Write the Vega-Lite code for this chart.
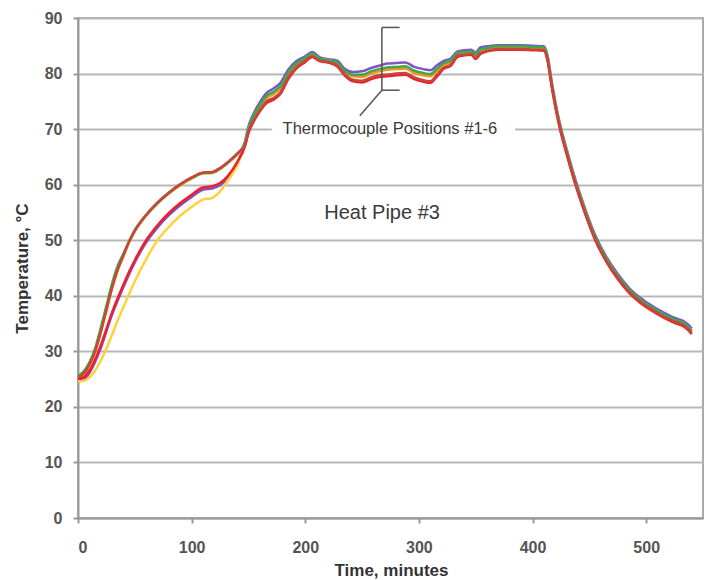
{
"$schema": "https://vega.github.io/schema/vega-lite/v6.json",
"width": 625, "height": 500,
"autosize": {"type": "none"},
"padding": {"left": 78, "top": 18, "right": 14, "bottom": 62},
"background": "white",
"config": {
 "view": {"stroke": "#aaaaaa", "strokeWidth": 2},
 "line": {"strokeWidth": 2.5, "interpolate": "monotone"},
 "axis": {"labelFont": "Liberation Sans", "labelFontWeight": "bold", "labelFontSize": 16, "labelColor": "#555555",
  "titleFont": "Liberation Sans", "titleFontWeight": "bold", "titleFontSize": 17, "titleColor": "#333333",
  "domainColor": "#999999", "domainWidth": 2, "tickColor": "#999999", "tickWidth": 2, "tickSize": 5}
},
"datasets": {"tc": [
{"t":0,"s":"TC1","v":24.9},{"t":5,"s":"TC1","v":24.9},{"t":10,"s":"TC1","v":26.1},{"t":15,"s":"TC1","v":28.1},{"t":20,"s":"TC1","v":30.6},{"t":25,"s":"TC1","v":33.6},{"t":30,"s":"TC1","v":36.6},{"t":35,"s":"TC1","v":39.2},{"t":40,"s":"TC1","v":41.6},{"t":45,"s":"TC1","v":43.9},{"t":50,"s":"TC1","v":46.0},{"t":60,"s":"TC1","v":49.6},{"t":70,"s":"TC1","v":52.3},{"t":80,"s":"TC1","v":54.5},{"t":90,"s":"TC1","v":56.3},{"t":100,"s":"TC1","v":57.8},{"t":110,"s":"TC1","v":59.1},{"t":118,"s":"TC1","v":59.3},{"t":125,"s":"TC1","v":59.9},{"t":132,"s":"TC1","v":61.2},{"t":140,"s":"TC1","v":63.7},
{"t":147,"s":"TC1","v":67.8},{"t":150,"s":"TC1","v":70.5},{"t":155,"s":"TC1","v":73.0},{"t":160,"s":"TC1","v":74.8},{"t":166,"s":"TC1","v":76.5},{"t":172,"s":"TC1","v":77.3},{"t":178,"s":"TC1","v":78.3},{"t":185,"s":"TC1","v":80.7},{"t":192,"s":"TC1","v":82.2},{"t":200,"s":"TC1","v":83.1},{"t":206,"s":"TC1","v":83.9},{"t":213,"s":"TC1","v":82.9},{"t":220,"s":"TC1","v":82.6},{"t":228,"s":"TC1","v":82.3},{"t":235,"s":"TC1","v":80.8},{"t":242,"s":"TC1","v":80.3},{"t":250,"s":"TC1","v":80.4},{"t":258,"s":"TC1","v":81.0},{"t":265,"s":"TC1","v":81.4},{"t":272,"s":"TC1","v":81.8},{"t":280,"s":"TC1","v":81.9},{"t":288,"s":"TC1","v":82.0},{"t":296,"s":"TC1","v":81.2},{"t":304,"s":"TC1","v":80.8},{"t":310,"s":"TC1","v":80.6},{"t":316,"s":"TC1","v":81.5},{"t":322,"s":"TC1","v":82.3},{"t":328,"s":"TC1","v":82.7},{"t":334,"s":"TC1","v":84.0},{"t":340,"s":"TC1","v":84.2},{"t":346,"s":"TC1","v":84.3},{"t":350,"s":"TC1","v":83.8},{"t":354,"s":"TC1","v":84.7},{"t":360,"s":"TC1","v":84.9},{"t":370,"s":"TC1","v":85.1},{"t":380,"s":"TC1","v":85.1},{"t":390,"s":"TC1","v":85.1},{"t":400,"s":"TC1","v":85.0},{"t":410,"s":"TC1","v":84.9},
{"t":413,"s":"TC1","v":83.4},{"t":417,"s":"TC1","v":78.4},{"t":421,"s":"TC1","v":73.9},{"t":425,"s":"TC1","v":70.2},{"t":430,"s":"TC1","v":66.4},{"t":437,"s":"TC1","v":61.4},{"t":445,"s":"TC1","v":56.4},{"t":455,"s":"TC1","v":51.0},{"t":465,"s":"TC1","v":47.0},{"t":475,"s":"TC1","v":43.9},{"t":485,"s":"TC1","v":41.4},{"t":495,"s":"TC1","v":39.6},{"t":505,"s":"TC1","v":38.2},{"t":515,"s":"TC1","v":37.0},{"t":522,"s":"TC1","v":36.3},{"t":528,"s":"TC1","v":35.8},{"t":533,"s":"TC1","v":35.4},{"t":537,"s":"TC1","v":34.8},{"t":540,"s":"TC1","v":34.1},

{"t":0,"s":"TC2","v":24.6},{"t":5,"s":"TC2","v":24.7},{"t":10,"s":"TC2","v":25.3},{"t":15,"s":"TC2","v":26.5},{"t":20,"s":"TC2","v":28.3},{"t":25,"s":"TC2","v":30.5},{"t":30,"s":"TC2","v":33.0},{"t":35,"s":"TC2","v":35.6},{"t":40,"s":"TC2","v":38.0},{"t":45,"s":"TC2","v":40.3},{"t":50,"s":"TC2","v":42.6},{"t":60,"s":"TC2","v":46.6},{"t":70,"s":"TC2","v":50.0},{"t":80,"s":"TC2","v":52.4},{"t":90,"s":"TC2","v":54.4},{"t":100,"s":"TC2","v":56.0},{"t":110,"s":"TC2","v":57.3},{"t":118,"s":"TC2","v":57.6},{"t":125,"s":"TC2","v":58.8},{"t":132,"s":"TC2","v":60.8},{"t":140,"s":"TC2","v":63.4},
{"t":147,"s":"TC2","v":67.5},{"t":150,"s":"TC2","v":70.0},{"t":155,"s":"TC2","v":72.4},{"t":160,"s":"TC2","v":74.2},{"t":166,"s":"TC2","v":75.8},{"t":172,"s":"TC2","v":76.5},{"t":178,"s":"TC2","v":77.5},{"t":185,"s":"TC2","v":80.0},{"t":192,"s":"TC2","v":81.7},{"t":200,"s":"TC2","v":82.7},{"t":206,"s":"TC2","v":83.5},{"t":213,"s":"TC2","v":82.6},{"t":220,"s":"TC2","v":82.4},{"t":228,"s":"TC2","v":81.9},{"t":235,"s":"TC2","v":80.3},{"t":242,"s":"TC2","v":79.6},{"t":250,"s":"TC2","v":79.6},{"t":258,"s":"TC2","v":80.2},{"t":265,"s":"TC2","v":80.6},{"t":272,"s":"TC2","v":80.9},{"t":280,"s":"TC2","v":81.0},{"t":288,"s":"TC2","v":81.1},{"t":296,"s":"TC2","v":80.3},{"t":304,"s":"TC2","v":79.9},{"t":310,"s":"TC2","v":79.7},{"t":316,"s":"TC2","v":80.7},{"t":322,"s":"TC2","v":81.7},{"t":328,"s":"TC2","v":82.2},{"t":334,"s":"TC2","v":83.6},{"t":340,"s":"TC2","v":83.8},{"t":346,"s":"TC2","v":83.9},{"t":350,"s":"TC2","v":83.3},{"t":354,"s":"TC2","v":84.2},{"t":360,"s":"TC2","v":84.5},{"t":370,"s":"TC2","v":84.8},{"t":380,"s":"TC2","v":84.8},{"t":390,"s":"TC2","v":84.8},{"t":400,"s":"TC2","v":84.7},{"t":410,"s":"TC2","v":84.6},
{"t":413,"s":"TC2","v":83.0},{"t":417,"s":"TC2","v":78.0},{"t":421,"s":"TC2","v":73.5},{"t":425,"s":"TC2","v":69.8},{"t":430,"s":"TC2","v":66.0},{"t":437,"s":"TC2","v":61.0},{"t":445,"s":"TC2","v":56.0},{"t":455,"s":"TC2","v":50.6},{"t":465,"s":"TC2","v":46.6},{"t":475,"s":"TC2","v":43.5},{"t":485,"s":"TC2","v":41.0},{"t":495,"s":"TC2","v":39.2},{"t":505,"s":"TC2","v":37.8},{"t":515,"s":"TC2","v":36.6},{"t":522,"s":"TC2","v":35.9},{"t":528,"s":"TC2","v":35.4},{"t":533,"s":"TC2","v":35.0},{"t":537,"s":"TC2","v":34.3},{"t":540,"s":"TC2","v":33.6},

{"t":0,"s":"TC3","v":25.1},{"t":5,"s":"TC3","v":25.8},{"t":10,"s":"TC3","v":27.4},{"t":15,"s":"TC3","v":29.8},{"t":20,"s":"TC3","v":33.3},{"t":25,"s":"TC3","v":37.3},{"t":30,"s":"TC3","v":41.3},{"t":35,"s":"TC3","v":44.6},{"t":40,"s":"TC3","v":47.1},{"t":45,"s":"TC3","v":49.6},{"t":50,"s":"TC3","v":51.6},{"t":60,"s":"TC3","v":54.4},{"t":70,"s":"TC3","v":56.6},{"t":80,"s":"TC3","v":58.4},{"t":90,"s":"TC3","v":59.9},{"t":100,"s":"TC3","v":61.1},{"t":110,"s":"TC3","v":62.0},{"t":118,"s":"TC3","v":62.1},{"t":125,"s":"TC3","v":62.8},{"t":132,"s":"TC3","v":63.9},{"t":140,"s":"TC3","v":65.4},
{"t":147,"s":"TC3","v":67.4},{"t":150,"s":"TC3","v":69.9},{"t":155,"s":"TC3","v":72.3},{"t":160,"s":"TC3","v":74.0},{"t":166,"s":"TC3","v":75.6},{"t":172,"s":"TC3","v":76.3},{"t":178,"s":"TC3","v":77.3},{"t":185,"s":"TC3","v":79.9},{"t":192,"s":"TC3","v":81.6},{"t":200,"s":"TC3","v":82.6},{"t":206,"s":"TC3","v":83.5},{"t":213,"s":"TC3","v":82.6},{"t":220,"s":"TC3","v":82.3},{"t":228,"s":"TC3","v":81.8},{"t":235,"s":"TC3","v":80.2},{"t":242,"s":"TC3","v":79.5},{"t":250,"s":"TC3","v":79.4},{"t":258,"s":"TC3","v":80.0},{"t":265,"s":"TC3","v":80.4},{"t":272,"s":"TC3","v":80.7},{"t":280,"s":"TC3","v":80.8},{"t":288,"s":"TC3","v":80.9},{"t":296,"s":"TC3","v":80.1},{"t":304,"s":"TC3","v":79.7},{"t":310,"s":"TC3","v":79.5},{"t":316,"s":"TC3","v":80.5},{"t":322,"s":"TC3","v":81.6},{"t":328,"s":"TC3","v":82.1},{"t":334,"s":"TC3","v":83.5},{"t":340,"s":"TC3","v":83.8},{"t":346,"s":"TC3","v":83.9},{"t":350,"s":"TC3","v":83.2},{"t":354,"s":"TC3","v":84.1},{"t":360,"s":"TC3","v":84.5},{"t":370,"s":"TC3","v":84.7},{"t":380,"s":"TC3","v":84.7},{"t":390,"s":"TC3","v":84.7},{"t":400,"s":"TC3","v":84.6},{"t":410,"s":"TC3","v":84.5},
{"t":413,"s":"TC3","v":82.9},{"t":417,"s":"TC3","v":77.9},{"t":421,"s":"TC3","v":73.4},{"t":425,"s":"TC3","v":69.7},{"t":430,"s":"TC3","v":65.9},{"t":437,"s":"TC3","v":60.9},{"t":445,"s":"TC3","v":55.9},{"t":455,"s":"TC3","v":50.5},{"t":465,"s":"TC3","v":46.5},{"t":475,"s":"TC3","v":43.4},{"t":485,"s":"TC3","v":40.9},{"t":495,"s":"TC3","v":39.1},{"t":505,"s":"TC3","v":37.7},{"t":515,"s":"TC3","v":36.5},{"t":522,"s":"TC3","v":35.8},{"t":528,"s":"TC3","v":35.3},{"t":533,"s":"TC3","v":34.9},{"t":537,"s":"TC3","v":34.2},{"t":540,"s":"TC3","v":33.5},

{"t":0,"s":"TC4","v":25.6},{"t":5,"s":"TC4","v":26.4},{"t":10,"s":"TC4","v":28.0},{"t":15,"s":"TC4","v":30.5},{"t":20,"s":"TC4","v":34.2},{"t":25,"s":"TC4","v":38.2},{"t":30,"s":"TC4","v":42.2},{"t":35,"s":"TC4","v":45.4},{"t":40,"s":"TC4","v":47.6},{"t":45,"s":"TC4","v":49.8},{"t":50,"s":"TC4","v":51.7},{"t":60,"s":"TC4","v":54.5},{"t":70,"s":"TC4","v":56.7},{"t":80,"s":"TC4","v":58.5},{"t":90,"s":"TC4","v":60.0},{"t":100,"s":"TC4","v":61.2},{"t":110,"s":"TC4","v":62.1},{"t":118,"s":"TC4","v":62.2},{"t":125,"s":"TC4","v":62.9},{"t":132,"s":"TC4","v":64.0},{"t":140,"s":"TC4","v":65.5},
{"t":147,"s":"TC4","v":67.6},{"t":150,"s":"TC4","v":70.1},{"t":155,"s":"TC4","v":72.6},{"t":160,"s":"TC4","v":74.3},{"t":166,"s":"TC4","v":76.0},{"t":172,"s":"TC4","v":76.7},{"t":178,"s":"TC4","v":77.7},{"t":185,"s":"TC4","v":80.2},{"t":192,"s":"TC4","v":81.8},{"t":200,"s":"TC4","v":82.8},{"t":206,"s":"TC4","v":83.6},{"t":213,"s":"TC4","v":82.7},{"t":220,"s":"TC4","v":82.4},{"t":228,"s":"TC4","v":82.0},{"t":235,"s":"TC4","v":80.4},{"t":242,"s":"TC4","v":79.8},{"t":250,"s":"TC4","v":79.8},{"t":258,"s":"TC4","v":80.4},{"t":265,"s":"TC4","v":80.8},{"t":272,"s":"TC4","v":81.1},{"t":280,"s":"TC4","v":81.2},{"t":288,"s":"TC4","v":81.3},{"t":296,"s":"TC4","v":80.5},{"t":304,"s":"TC4","v":80.1},{"t":310,"s":"TC4","v":79.9},{"t":316,"s":"TC4","v":80.9},{"t":322,"s":"TC4","v":81.9},{"t":328,"s":"TC4","v":82.3},{"t":334,"s":"TC4","v":83.7},{"t":340,"s":"TC4","v":83.9},{"t":346,"s":"TC4","v":84.0},{"t":350,"s":"TC4","v":83.4},{"t":354,"s":"TC4","v":84.3},{"t":360,"s":"TC4","v":84.6},{"t":370,"s":"TC4","v":84.9},{"t":380,"s":"TC4","v":84.9},{"t":390,"s":"TC4","v":84.9},{"t":400,"s":"TC4","v":84.8},{"t":410,"s":"TC4","v":84.7},
{"t":413,"s":"TC4","v":83.1},{"t":417,"s":"TC4","v":78.1},{"t":421,"s":"TC4","v":73.6},{"t":425,"s":"TC4","v":69.9},{"t":430,"s":"TC4","v":66.1},{"t":437,"s":"TC4","v":61.1},{"t":445,"s":"TC4","v":56.1},{"t":455,"s":"TC4","v":50.7},{"t":465,"s":"TC4","v":46.7},{"t":475,"s":"TC4","v":43.6},{"t":485,"s":"TC4","v":41.1},{"t":495,"s":"TC4","v":39.3},{"t":505,"s":"TC4","v":37.9},{"t":515,"s":"TC4","v":36.7},{"t":522,"s":"TC4","v":36.0},{"t":528,"s":"TC4","v":35.5},{"t":533,"s":"TC4","v":35.1},{"t":537,"s":"TC4","v":34.4},{"t":540,"s":"TC4","v":33.7},

{"t":0,"s":"TC5","v":25.0},{"t":5,"s":"TC5","v":25.3},{"t":10,"s":"TC5","v":26.5},{"t":15,"s":"TC5","v":28.5},{"t":20,"s":"TC5","v":31.0},{"t":25,"s":"TC5","v":34.0},{"t":30,"s":"TC5","v":37.0},{"t":35,"s":"TC5","v":39.6},{"t":40,"s":"TC5","v":42.0},{"t":45,"s":"TC5","v":44.3},{"t":50,"s":"TC5","v":46.4},{"t":60,"s":"TC5","v":50.0},{"t":70,"s":"TC5","v":52.7},{"t":80,"s":"TC5","v":54.9},{"t":90,"s":"TC5","v":56.7},{"t":100,"s":"TC5","v":58.2},{"t":110,"s":"TC5","v":59.5},{"t":118,"s":"TC5","v":59.7},{"t":125,"s":"TC5","v":60.3},{"t":132,"s":"TC5","v":61.6},{"t":140,"s":"TC5","v":64.0},
{"t":147,"s":"TC5","v":67.0},{"t":150,"s":"TC5","v":69.3},{"t":155,"s":"TC5","v":71.5},{"t":160,"s":"TC5","v":73.2},{"t":166,"s":"TC5","v":74.7},{"t":172,"s":"TC5","v":75.3},{"t":178,"s":"TC5","v":76.3},{"t":185,"s":"TC5","v":79.0},{"t":192,"s":"TC5","v":80.9},{"t":200,"s":"TC5","v":82.1},{"t":206,"s":"TC5","v":83.0},{"t":213,"s":"TC5","v":82.2},{"t":220,"s":"TC5","v":82.0},{"t":228,"s":"TC5","v":81.3},{"t":235,"s":"TC5","v":79.6},{"t":242,"s":"TC5","v":78.6},{"t":250,"s":"TC5","v":78.4},{"t":258,"s":"TC5","v":79.0},{"t":265,"s":"TC5","v":79.4},{"t":272,"s":"TC5","v":79.5},{"t":280,"s":"TC5","v":79.7},{"t":288,"s":"TC5","v":79.8},{"t":296,"s":"TC5","v":79.0},{"t":304,"s":"TC5","v":78.5},{"t":310,"s":"TC5","v":78.3},{"t":316,"s":"TC5","v":79.5},{"t":322,"s":"TC5","v":80.9},{"t":328,"s":"TC5","v":81.4},{"t":334,"s":"TC5","v":83.0},{"t":340,"s":"TC5","v":83.3},{"t":346,"s":"TC5","v":83.4},{"t":350,"s":"TC5","v":82.6},{"t":354,"s":"TC5","v":83.5},{"t":360,"s":"TC5","v":84.0},{"t":370,"s":"TC5","v":84.3},{"t":380,"s":"TC5","v":84.3},{"t":390,"s":"TC5","v":84.3},{"t":400,"s":"TC5","v":84.2},{"t":410,"s":"TC5","v":84.1},
{"t":413,"s":"TC5","v":82.5},{"t":417,"s":"TC5","v":77.5},{"t":421,"s":"TC5","v":73.0},{"t":425,"s":"TC5","v":69.3},{"t":430,"s":"TC5","v":65.5},{"t":437,"s":"TC5","v":60.5},{"t":445,"s":"TC5","v":55.5},{"t":455,"s":"TC5","v":50.1},{"t":465,"s":"TC5","v":46.1},{"t":475,"s":"TC5","v":43.0},{"t":485,"s":"TC5","v":40.5},{"t":495,"s":"TC5","v":38.7},{"t":505,"s":"TC5","v":37.3},{"t":515,"s":"TC5","v":36.1},{"t":522,"s":"TC5","v":35.4},{"t":528,"s":"TC5","v":34.9},{"t":533,"s":"TC5","v":34.5},{"t":537,"s":"TC5","v":33.8},{"t":540,"s":"TC5","v":33.1},

{"t":0,"s":"TC6","v":25.3},{"t":5,"s":"TC6","v":26.0},{"t":10,"s":"TC6","v":27.6},{"t":15,"s":"TC6","v":30.0},{"t":20,"s":"TC6","v":33.5},{"t":25,"s":"TC6","v":37.5},{"t":30,"s":"TC6","v":41.5},{"t":35,"s":"TC6","v":44.8},{"t":40,"s":"TC6","v":47.3},{"t":45,"s":"TC6","v":49.8},{"t":50,"s":"TC6","v":51.8},{"t":60,"s":"TC6","v":54.6},{"t":70,"s":"TC6","v":56.8},{"t":80,"s":"TC6","v":58.6},{"t":90,"s":"TC6","v":60.1},{"t":100,"s":"TC6","v":61.3},{"t":110,"s":"TC6","v":62.2},{"t":118,"s":"TC6","v":62.3},{"t":125,"s":"TC6","v":63.0},{"t":132,"s":"TC6","v":64.1},{"t":140,"s":"TC6","v":65.6},
{"t":147,"s":"TC6","v":67.1},{"t":150,"s":"TC6","v":69.5},{"t":155,"s":"TC6","v":71.7},{"t":160,"s":"TC6","v":73.4},{"t":166,"s":"TC6","v":75.0},{"t":172,"s":"TC6","v":75.6},{"t":178,"s":"TC6","v":76.6},{"t":185,"s":"TC6","v":79.3},{"t":192,"s":"TC6","v":81.1},{"t":200,"s":"TC6","v":82.3},{"t":206,"s":"TC6","v":83.1},{"t":213,"s":"TC6","v":82.3},{"t":220,"s":"TC6","v":82.1},{"t":228,"s":"TC6","v":81.5},{"t":235,"s":"TC6","v":79.8},{"t":242,"s":"TC6","v":78.9},{"t":250,"s":"TC6","v":78.7},{"t":258,"s":"TC6","v":79.3},{"t":265,"s":"TC6","v":79.7},{"t":272,"s":"TC6","v":79.8},{"t":280,"s":"TC6","v":80.0},{"t":288,"s":"TC6","v":80.1},{"t":296,"s":"TC6","v":79.3},{"t":304,"s":"TC6","v":78.8},{"t":310,"s":"TC6","v":78.6},{"t":316,"s":"TC6","v":79.8},{"t":322,"s":"TC6","v":81.1},{"t":328,"s":"TC6","v":81.6},{"t":334,"s":"TC6","v":83.2},{"t":340,"s":"TC6","v":83.4},{"t":346,"s":"TC6","v":83.5},{"t":350,"s":"TC6","v":82.8},{"t":354,"s":"TC6","v":83.7},{"t":360,"s":"TC6","v":84.1},{"t":370,"s":"TC6","v":84.4},{"t":380,"s":"TC6","v":84.4},{"t":390,"s":"TC6","v":84.4},{"t":400,"s":"TC6","v":84.3},{"t":410,"s":"TC6","v":84.2},
{"t":413,"s":"TC6","v":82.7},{"t":417,"s":"TC6","v":77.7},{"t":421,"s":"TC6","v":73.2},{"t":425,"s":"TC6","v":69.5},{"t":430,"s":"TC6","v":65.7},{"t":437,"s":"TC6","v":60.7},{"t":445,"s":"TC6","v":55.7},{"t":455,"s":"TC6","v":50.3},{"t":465,"s":"TC6","v":46.3},{"t":475,"s":"TC6","v":43.2},{"t":485,"s":"TC6","v":40.7},{"t":495,"s":"TC6","v":38.9},{"t":505,"s":"TC6","v":37.5},{"t":515,"s":"TC6","v":36.3},{"t":522,"s":"TC6","v":35.6},{"t":528,"s":"TC6","v":35.1},{"t":533,"s":"TC6","v":34.7},{"t":537,"s":"TC6","v":34.0},{"t":540,"s":"TC6","v":33.3}
]},
"layer": [
 {"data": {"name": "tc"}, "transform": [{"filter": {"field": "s", "equal": "TC1"}}],
  "mark": {"type": "line", "color": "#7D55C7"},
  "encoding": {
   "x": {"field": "t", "type": "quantitative", "title": "Time, minutes", "scale": {"domain": [0, 550], "nice": false},
    "axis": {"values": [0, 100, 200, 300, 400, 500], "grid": false, "labelPadding": 24, "labelBaseline": "middle", "titleX": 313, "titleY": 52, "titleBaseline": "middle", "titleAnchor": null}},
   "y": {"field": "v", "type": "quantitative", "title": "Temperature, °C", "scale": {"domain": [0, 90], "nice": false},
    "axis": {"values": [0, 10, 20, 30, 40, 50, 60, 70, 80, 90], "grid": true, "gridColor": "#b8b8b8", "gridWidth": 2, "labelPadding": 11,
     "titleX": -56, "titleY": 250, "titleAngle": 270, "titleAlign": "center", "titleBaseline": "middle"}}
  }},
 {"data": {"name": "tc"}, "transform": [{"filter": {"field": "s", "equal": "TC2"}}],
  "mark": {"type": "line", "color": "#FFD23C"},
  "encoding": {"x": {"field": "t", "type": "quantitative", "title": "Time, minutes"}, "y": {"field": "v", "type": "quantitative", "title": "Temperature, °C"}}},
 {"data": {"name": "tc"}, "transform": [{"filter": {"field": "s", "equal": "TC3"}}],
  "mark": {"type": "line", "color": "#F7941D"},
  "encoding": {"x": {"field": "t", "type": "quantitative", "title": "Time, minutes"}, "y": {"field": "v", "type": "quantitative", "title": "Temperature, °C"}}},
 {"data": {"name": "tc"}, "transform": [{"filter": {"field": "s", "equal": "TC4"}}],
  "mark": {"type": "line", "color": "#3BAA4A"},
  "encoding": {"x": {"field": "t", "type": "quantitative", "title": "Time, minutes"}, "y": {"field": "v", "type": "quantitative", "title": "Temperature, °C"}}},
 {"data": {"name": "tc"}, "transform": [{"filter": {"field": "s", "equal": "TC5"}}],
  "mark": {"type": "line", "color": "#F01E2C"},
  "encoding": {"x": {"field": "t", "type": "quantitative", "title": "Time, minutes"}, "y": {"field": "v", "type": "quantitative", "title": "Temperature, °C"}}},
 {"data": {"name": "tc"}, "transform": [{"filter": {"field": "s", "equal": "TC6"}}],
  "mark": {"type": "line", "color": "#C8453C"},
  "encoding": {"x": {"field": "t", "type": "quantitative", "title": "Time, minutes"}, "y": {"field": "v", "type": "quantitative", "title": "Temperature, °C"}}},
 {"data": {"values": [{"t": 170.5, "t2": 384.7, "v": 68.6, "v2": 71.6}]},
  "mark": {"type": "rect", "fill": "white"},
  "encoding": {"x": {"field": "t", "type": "quantitative", "title": "Time, minutes"}, "x2": {"field": "t2"},
   "y": {"field": "v", "type": "quantitative", "title": "Temperature, °C"}, "y2": {"field": "v2"}}},
 {"data": {"values": [
   {"t": 267.4, "v": 77.0, "t2": 267.4, "v2": 88.3},
   {"t": 267.4, "v": 88.3, "t2": 283, "v2": 88.3},
   {"t": 267.4, "v": 77.0, "t2": 283, "v2": 77.0},
   {"t": 267.4, "v": 77.0, "t2": 248, "v2": 72.4}]},
  "mark": {"type": "rule", "color": "#555555", "strokeWidth": 1.5},
  "encoding": {"x": {"field": "t", "type": "quantitative", "title": "Time, minutes"}, "x2": {"field": "t2"},
   "y": {"field": "v", "type": "quantitative", "title": "Temperature, °C"}, "y2": {"field": "v2"}}},
 {"data": {"values": [{"t": 274.5, "v": 70.0, "label": "Thermocouple Positions #1-6", "size": 16.5}, {"t": 267.6, "v": 54.9, "label": "Heat Pipe #3", "size": 20}]},
  "mark": {"type": "text", "font": "Liberation Sans", "color": "#3a3a3a", "align": "center", "baseline": "middle"},
  "encoding": {"x": {"field": "t", "type": "quantitative", "title": "Time, minutes"},
   "y": {"field": "v", "type": "quantitative", "title": "Temperature, °C"},
   "text": {"field": "label"},
   "size": {"field": "size", "type": "quantitative", "scale": null, "legend": null}}}
]
}
